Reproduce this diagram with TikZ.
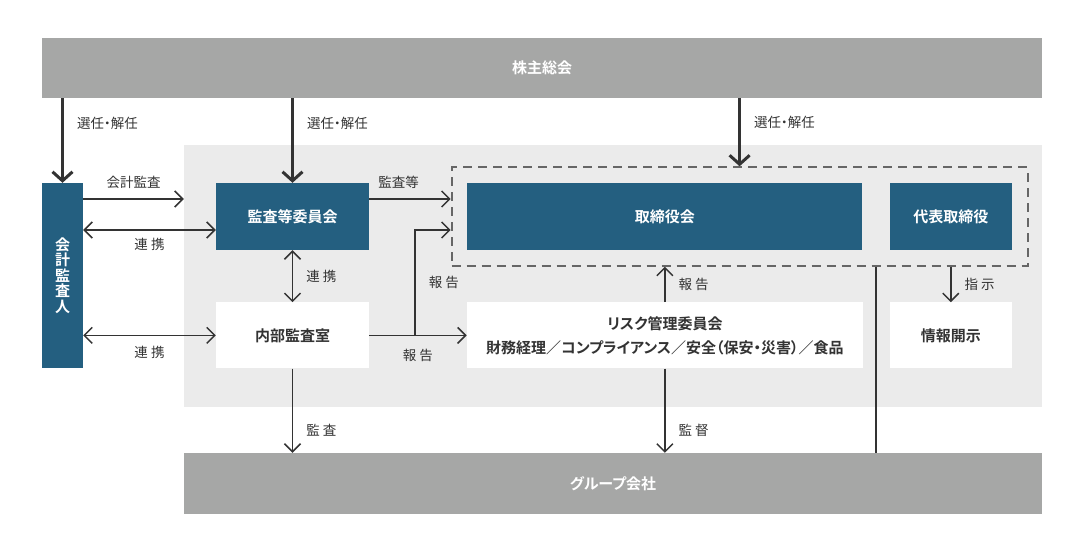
\documentclass[tikz,border=0pt]{standalone}
\usepackage{fontspec}
\setmainfont{Noto Sans CJK JP}[BoldFont={Noto Sans CJK JP Bold}, RawFeature=+palt]
\usepackage{xcolor}
\usetikzlibrary{positioning, fit, arrows.meta}
\definecolor{boxblue}{HTML}{245F80}
\definecolor{bargray}{HTML}{A6A7A6}
\definecolor{zonegray}{HTML}{EBEBEB}
\definecolor{linegray}{HTML}{333333}
\definecolor{dashgray}{HTML}{666666}

\begin{document}
\begin{tikzpicture}[
    x = 1pt, y = -1pt, align = center,
    bar/.style = {
      rectangle, fill = bargray, text = white, inner sep = 0pt,
      minimum height = 60pt, font = \fontsize{15}{16}\selectfont\bfseries
    },
    zone/.style = {
      rectangle, fill = zonegray, inner sep = 0pt
    },
    bluebox/.style = {
      rectangle, fill = boxblue, text = white, inner sep = 0pt,
      minimum height = 67pt, font = \fontsize{15}{16}\selectfont\bfseries
    },
    whitebox/.style = {
      rectangle, fill = white, text = linegray, inner sep = 0pt,
      minimum height = 66pt, font = \fontsize{15}{24}\selectfont\bfseries
    },
    group/.style = {
      rectangle, draw = dashgray, line width = 2pt,
      dash pattern = on 9pt off 6pt
    },
    flow/.style = {
      -{Straight Barb[length = 8pt, width = 16pt]}, draw = linegray, line width = 1.5pt
    },
    twoway/.style = {
      {Straight Barb[length = 8pt, width = 16pt]}-{Straight Barb[length = 8pt, width = 16pt]},
      draw = linegray, line width = 1.5pt
    },
    elect/.style = {
      -{Straight Barb[length = 9pt, width = 20pt]}, draw = linegray, line width = 3pt
    },
    tie/.style = {
      draw = linegray, line width = 1.5pt
    },
    tag/.style = {
      inner sep = 0pt, text = linegray, font = \fontsize{13.5}{15}\selectfont
    },
    ]
\useasboundingbox (0,0) rectangle (1084,551);

\node  [bar, minimum width = 1000pt]  (gm)  at (542,68)  {株主総会};
\node  [zone, minimum width = 858pt, minimum height = 262pt]  (zone)  at (613,276)  {};
\node  [bluebox, minimum width = 41pt, minimum height = 185pt,
        font = \fontsize{15}{15.5}\selectfont\bfseries]  (auditor)  at (62.5,275.5)  {会\\計\\監\\査\\人};
\node  [bluebox, minimum width = 153pt]  (committee)  at (292.5,216.5)  {監査等委員会};
\node  [bluebox, minimum width = 395pt]  (board_mtg)  [right = 98pt of committee]  {取締役会};
\node  [bluebox, minimum width = 122pt]  (ceo)  [right = 27pt of board_mtg]  {代表取締役};
\node  [group, fit = (board_mtg) (ceo), inner sep = 15.5pt]  (board)  {};
\node  [whitebox, minimum width = 153pt]  (audit_room)  [below = 52pt of committee]  {内部監査室};
\node  [whitebox, minimum width = 396pt]  (risk)  [below = 52pt of board_mtg]
       {リスク管理委員会\\財務経理／コンプライアンス／安全（保安・災害）／食品};
\node  [whitebox, minimum width = 122pt]  (disclose)  [below = 52pt of ceo]  {情報開示};
\node  [bar, minimum width = 858pt, minimum height = 61pt]  (group_co)  at (613,483.5)  {グループ会社};

\coordinate  (audit_lvl)  at (0,199);
\coordinate  (link_lvl)  at (0,230);
\coordinate  (junc)  at (415,335);
\coordinate  (tie_x)  at (876,0);

% appointment from the shareholders
\draw  [elect]  (gm.south -| auditor.north)  to node  [tag, pos = 0.3, right = 13pt]  {選任・解任}  (auditor.north);
\draw  [elect]  (gm.south -| committee.north)  to node  [tag, pos = 0.3, right = 13pt]  {選任・解任}  (committee.north);
\draw  [elect]  (gm.south -| board.north)  to node  [tag, pos = 0.36, right = 13pt]  {選任・解任}  (board.north);

\draw  [flow]  (auditor.east |- audit_lvl)  to node  [tag, midway, above = 10pt]  {会計監査}  (zone.west |- audit_lvl);
\draw  [twoway]  (auditor.east |- link_lvl)  to node  [tag, midway, below = 7pt]  {連 携}  (committee.west |- link_lvl);
\draw  [twoway]  (auditor.east |- audit_room)  to node  [tag, midway, below = 10pt]  {連 携}  (audit_room.west);
\draw  [flow]  (committee.east |- audit_lvl)  to node  [tag, pos = 0.36, above = 10pt]  {監査等}  (board.west |- audit_lvl);
\draw  [twoway]  (committee.south)  to node  [tag, midway, right = 13pt]  {連 携}  (audit_room.north);

% reports
\draw  [flow]  (audit_room.east)  to node  [tag, midway, below = 13pt]  {報 告}  (risk.west);
\draw  [flow]  (junc)  |- node  [tag, pos = 0.25, right = 13pt]  {報 告}  (board.west |- link_lvl);
\draw  [flow]  (risk.north)  to node  [tag, midway, right = 13pt]  {報 告}  (risk.north |- board.south);
\draw  [flow]  (board.south -| disclose.north)  to node  [tag, midway, right = 13pt]  {指 示}  (disclose.north);
\draw  [tie]  (board.south -| tie_x)  --  (group_co.north -| tie_x);

% group companies
\draw  [flow]  (audit_room.south)  to node  [tag, pos = 0.73, right = 13pt]  {監 査}  (group_co.north -| audit_room.south);
\draw  [flow]  (risk.south)  to node  [tag, pos = 0.73, right = 13pt]  {監 督}  (group_co.north -| risk.south);

\end{tikzpicture}
\end{document}
